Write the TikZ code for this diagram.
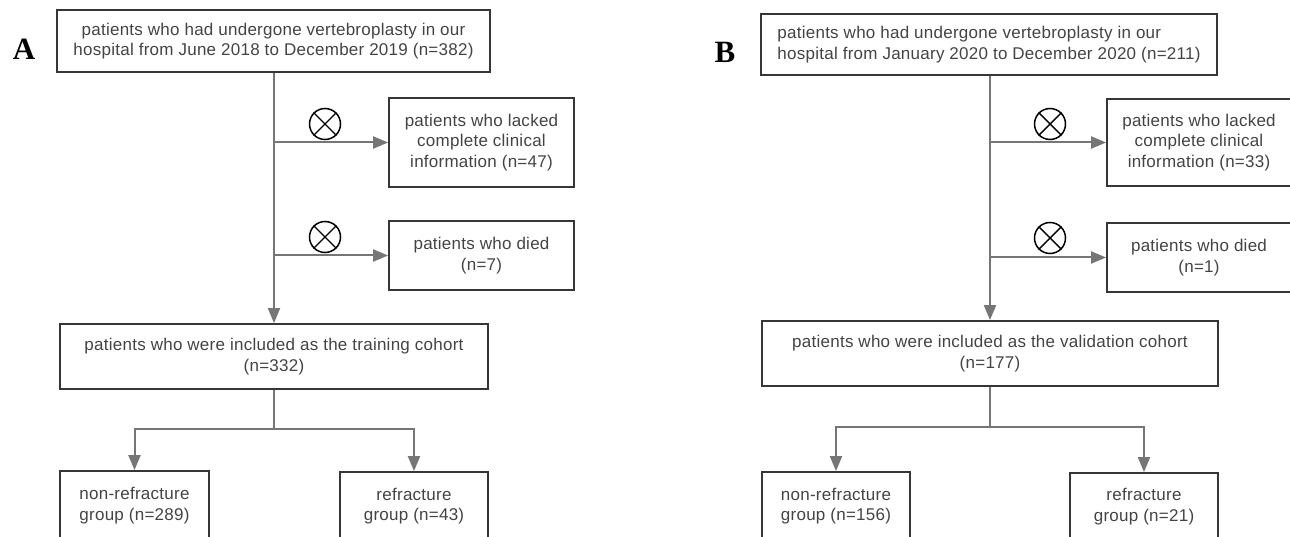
\documentclass[tikz,border=0pt]{standalone}
\usepackage{fontspec}
\setmainfont{Liberation Sans}[LetterSpace=1.5]
\newfontfamily\labfont{Liberation Serif}
\usetikzlibrary{arrows.meta}
\definecolor{txt}{HTML}{444444}
\definecolor{bord}{HTML}{363636}
\definecolor{conn}{HTML}{767676}
\begin{document}
\begin{tikzpicture}[x=1pt,y=-1pt,
  box/.style={draw=bord, line width=1.8pt, text=txt, align=center, inner sep=0pt,
    font=\fontsize{17}{20.5}\selectfont},
  lbox/.style={box, align=left},
  line/.style={draw=conn, line width=2pt},
  arr/.style={line, -{Triangle[length=15pt,width=12pt]}},
  xcirc/.style={circle, draw=black, line width=1.5pt, minimum size=31pt, inner sep=0pt},
  xline/.style={black, line width=1.4pt},
  panel/.style={font=\labfont\bfseries\fontsize{31}{31}\selectfont, text=black, inner sep=0pt}]
\fill[white] (0,0) rectangle (1290,537);
\clip (0,0) rectangle (1290,537);
\useasboundingbox (0,0) rectangle (1290,537);

% ---------------- Panel A ----------------
\node[panel] (labA) at (24,49) {A};
\node[box, minimum width=433pt, minimum height=62pt] (topA) at (273.5,41)
  {patients who had undergone vertebroplasty in our\\hospital from June 2018 to December 2019 (n=382)};
\node[box, minimum width=185pt, minimum height=89pt] (lackA) at (481.5,142.5)
  {patients who lacked\\complete clinical\\information (n=47)};
\node[box, minimum width=185pt, minimum height=69pt] (diedA) at (481.5,255.5)
  {patients who died\\(n=7)};
\node[box, minimum width=428pt, minimum height=65pt] (trainA) at (274,356.5)
  {patients who were included as the training cohort\\(n=332)};
\node[box, minimum width=149pt, minimum height=69pt] (nonA) at (134.5,505.5)
  {non-refracture\\group (n=289)};
\node[box, minimum width=148pt, minimum height=68pt] (refA) at (414,506)
  {refracture\\group (n=43)};
\node[xcirc] (xA1) at (325,124) {};
\node[xcirc] (xA2) at (325,237) {};
\foreach \c in {xA1,xA2}{
  \draw[xline] (\c.north west) -- (\c.south east);
  \draw[xline] (\c.north east) -- (\c.south west);
}
\draw[arr] (topA.south -| trainA.north) -- (trainA.north);
\draw[arr] (lackA.west -| trainA.north) -- (lackA.west);
\draw[arr] (diedA.west -| trainA.north) -- (diedA.west);
\coordinate (brA) at (274,429);
\draw[line] (trainA.south) -- (brA);
\draw[arr] (brA) -| (nonA.north);
\draw[arr] (brA) -| (refA.north);

% ---------------- Panel B ----------------
\node[panel] (labB) at (725,52) {B};
\node[lbox, minimum width=456pt, minimum height=61pt] (topB) at (989,44.5)
  {patients who had undergone vertebroplasty in our\\hospital from January 2020 to December 2020 (n=211)};
\node[box, minimum width=184pt, minimum height=87pt] (lackB) at (1199,142.5)
  {patients who lacked\\complete clinical\\information (n=33)};
\node[box, minimum width=184pt, minimum height=69pt] (diedB) at (1199,257.5)
  {patients who died\\(n=1)};
\node[box, minimum width=456pt, minimum height=65pt] (valB) at (990,353.5)
  {patients who were included as the validation cohort\\(n=177)};
\node[box, minimum width=148pt, minimum height=68pt] (nonB) at (836,506)
  {non-refracture\\group (n=156)};
\node[box, minimum width=148pt, minimum height=67pt] (refB) at (1144,506.5)
  {refracture\\group (n=21)};
\node[xcirc] (xB1) at (1050,124) {};
\node[xcirc] (xB2) at (1050,238) {};
\foreach \c in {xB1,xB2}{
  \draw[xline] (\c.north west) -- (\c.south east);
  \draw[xline] (\c.north east) -- (\c.south west);
}
\draw[arr] (topB.south -| valB.north) -- (valB.north);
\draw[arr] (lackB.west -| valB.north) -- (lackB.west);
\draw[arr] (diedB.west -| valB.north) -- (diedB.west);
\coordinate (brB) at (990,427);
\draw[line] (valB.south) -- (brB);
\draw[arr] (brB) -| (nonB.north);
\draw[arr] (brB) -| (refB.north);
\end{tikzpicture}
\end{document}
